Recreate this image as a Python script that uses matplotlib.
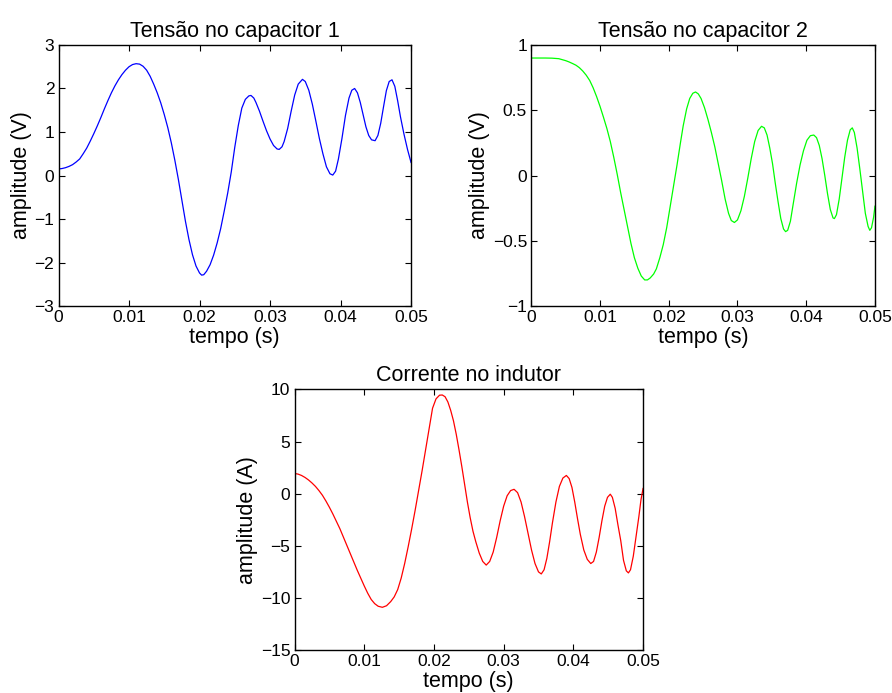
import matplotlib
matplotlib.use("Agg")
import matplotlib.pyplot as plt
import numpy as np

plt.rcParams['font.family'] = ['Liberation Sans', 'DejaVu Sans']

# ---- data (time in ms) ----
t1_ms = [0, 0.5, 1, 1.5, 2, 2.5, 3, 3.5, 4, 4.5, 5, 5.5, 6, 6.5, 7, 7.5, 8, 8.5, 9, 9.5, 10, 10.5,
         11, 11.5, 12, 12.5, 13, 13.5, 14, 14.5, 15, 15.5, 16, 16.5, 17, 17.5, 18, 18.5, 19, 19.5,
         20, 20.3, 20.6, 21, 21.5, 22, 22.5, 23, 23.5, 24, 24.5, 25, 25.5, 26, 26.5, 27, 27.3,
         27.7, 28, 28.5, 29, 29.5, 30, 30.5, 31, 31.3, 31.7, 32, 32.5, 33, 33.5, 34, 34.6, 35,
         35.5, 36, 36.5, 37, 37.5, 38, 38.5, 38.9, 39.3, 39.7, 40.2, 40.7, 41.2, 41.6, 42, 42.4,
         42.8, 43.2, 43.6, 44, 44.4, 44.9, 45.3, 45.7, 46.1, 46.5, 46.9, 47.3, 47.7, 48.1, 48.5,
         49, 49.5, 50]
v1 = [0.15, 0.16, 0.18, 0.21, 0.25, 0.31, 0.38, 0.50, 0.63, 0.79, 0.96, 1.14, 1.33, 1.53, 1.72,
      1.90, 2.06, 2.20, 2.32, 2.42, 2.50, 2.55, 2.57, 2.56, 2.51, 2.42, 2.28, 2.10, 1.90, 1.67,
      1.40, 1.10, 0.75, 0.35, -0.09, -0.57, -1.05, -1.47, -1.82, -2.08, -2.24, -2.29, -2.28,
      -2.20, -2.05, -1.83, -1.55, -1.22, -0.82, -0.40, 0.08, 0.65, 1.15, 1.55, 1.75, 1.83, 1.84,
      1.78, 1.68, 1.48, 1.25, 1.03, 0.84, 0.69, 0.61, 0.60, 0.66, 0.78, 1.08, 1.48, 1.85, 2.10,
      2.21, 2.16, 1.96, 1.64, 1.25, 0.85, 0.50, 0.20, 0.04, 0.01, 0.10, 0.38, 0.85, 1.38, 1.78,
      1.96, 2.00, 1.90, 1.68, 1.40, 1.12, 0.92, 0.82, 0.80, 0.92, 1.20, 1.58, 1.95, 2.16, 2.20,
      2.05, 1.72, 1.35, 0.95, 0.60, 0.30]

t2_ms = [0, 1, 2, 3, 4, 5, 5.5, 6, 6.5, 7, 7.5, 8, 8.5, 9, 9.5, 10, 10.5, 11, 11.5, 12, 12.5, 13,
         13.5, 14, 14.5, 15, 15.5, 16, 16.5, 16.9, 17.3, 17.8, 18.2, 18.7, 19.2, 19.7, 20.2, 20.7,
         21.2, 21.7, 22.1, 22.6, 23.05, 23.5, 23.9, 24.3, 24.7, 25.2, 25.7, 26.2, 26.7, 27.2,
         27.7, 28.2, 28.7, 29.1, 29.55, 30, 30.5, 31, 31.5, 32, 32.5, 33, 33.5, 33.9, 34.3, 34.7,
         35.1, 35.5, 35.9, 36.3, 36.7, 37.0, 37.3, 37.7, 38.1, 38.6, 39.1, 39.6, 40.1, 40.6,
         41.1, 41.5, 41.9, 42.3, 42.7, 43.1, 43.5, 43.9, 44.1, 44.4, 44.8, 45.2, 45.6, 46.0,
         46.4, 46.7, 47.0, 47.4, 47.8, 48.2, 48.6, 49.0, 49.25, 49.5, 49.8, 50.0]
v2 = [0.90, 0.90, 0.90, 0.899, 0.895, 0.88, 0.87, 0.858, 0.845, 0.826, 0.80, 0.768, 0.728, 0.672,
      0.605, 0.53, 0.447, 0.36, 0.26, 0.14, 0.01, -0.13, -0.26, -0.39, -0.52, -0.63, -0.71,
      -0.77, -0.80, -0.80, -0.785, -0.755, -0.715, -0.63, -0.53, -0.40, -0.24, -0.08, 0.08,
      0.25, 0.38, 0.51, 0.59, 0.63, 0.64, 0.625, 0.59, 0.52, 0.43, 0.33, 0.22, 0.09, -0.04,
      -0.18, -0.29, -0.345, -0.36, -0.34, -0.27, -0.16, -0.02, 0.13, 0.26, 0.345, 0.377, 0.365,
      0.31, 0.21, 0.09, -0.06, -0.20, -0.33, -0.41, -0.43, -0.42, -0.35, -0.22, -0.06, 0.08,
      0.19, 0.27, 0.305, 0.31, 0.29, 0.23, 0.13, 0.0, -0.14, -0.26, -0.325, -0.33, -0.30,
      -0.18, -0.02, 0.14, 0.27, 0.35, 0.365, 0.33, 0.21, 0.05, -0.12, -0.29, -0.39, -0.42,
      -0.40, -0.32, -0.235]

t3_ms = [0, 0.5, 1.0, 1.5, 2.0, 2.5, 3.0, 3.5, 4.0, 4.5, 5.0, 5.5, 6.0, 6.5, 7.0, 7.5, 8.0, 8.5,
         9.0, 9.5, 10.0, 10.5, 11.0, 11.5, 12.0, 12.6, 13.2, 13.8, 14.3, 14.8, 15.3, 15.8, 16.3,
         16.8, 17.3, 17.8, 18.3, 18.8, 19.3, 19.8, 20.3, 20.8, 21.2, 21.6, 22.0, 22.4, 22.8,
         23.2, 23.6, 24.0, 24.4, 24.8, 25.2, 25.6, 26.0, 26.5, 27.0, 27.5, 28.0, 28.5, 29.0,
         29.5, 30.0, 30.5, 31.0, 31.5, 32.0, 32.5, 33.0, 33.5, 34.0, 34.5, 35.0, 35.4, 35.8,
         36.2, 36.6, 37.0, 37.5, 38.0, 38.5, 39.0, 39.4, 39.8, 40.2, 40.6, 41.0, 41.5, 42.0,
         42.5, 42.9, 43.3, 43.7, 44.1, 44.5, 44.9, 45.3, 45.6, 46.0, 46.4, 46.8, 47.2, 47.6,
         47.9, 48.2, 48.6, 49.0, 49.4, 49.7, 50.0]
i3 = [1.94, 1.88, 1.75, 1.56, 1.32, 1.03, 0.70, 0.30, -0.15, -0.70, -1.30, -1.95, -2.65, -3.35,
      -4.15, -4.95, -5.75, -6.55, -7.35, -8.1, -8.85, -9.55, -10.15, -10.55, -10.8, -10.9,
      -10.75, -10.35, -9.9, -9.2, -8.1, -6.7, -5.1, -3.4, -1.6, 0.3, 2.2, 4.2, 6.2, 8.2, 9.1,
      9.45, 9.47, 9.3, 8.8, 8.0, 7.0, 5.7, 4.2, 2.6, 0.9, -0.8, -2.3, -3.6, -4.6, -5.7, -6.5,
      -6.85, -6.5, -5.6, -4.2, -2.6, -1.2, -0.2, 0.3, 0.42, 0.1, -0.8, -2.2, -3.8, -5.4, -6.7,
      -7.5, -7.7, -7.3, -6.2, -4.6, -2.8, -0.8, 0.7, 1.5, 1.75, 1.45, 0.6, -0.8, -2.4, -3.9,
      -5.4, -6.3, -6.7, -6.5, -5.6, -4.2, -2.6, -1.2, -0.35, -0.05, -0.35, -1.4, -3.0, -4.5,
      -6.4, -7.4, -7.6, -7.3, -6.0, -4.1, -2.2, -0.6, 0.5]

titles = ["Tensão no capacitor 1", "Tensão no capacitor 2", "Corrente no indutor"]
ylabels = ["amplitude (V)", "amplitude (V)", "amplitude (A)"]
xlabel = "tempo (s)"
xticks = [0, 0.01, 0.02, 0.03, 0.04, 0.05]
xticklabels = ["0", "0.01", "0.02", "0.03", "0.04", "0.05"]
yticks1 = [-3, -2, -1, 0, 1, 2, 3]
yticks2 = [-1, -0.5, 0, 0.5, 1]
yticklabels2 = ["\u22121", "\u22120.5", "0", "0.5", "1"]
yticks3 = [-15, -10, -5, 0, 5, 10]

fig = plt.figure(figsize=(8.92, 6.93), dpi=100)
ax1 = fig.add_axes([0.0656, 0.5584, 0.3952, 0.3767])
ax2 = fig.add_axes([0.5956, 0.5584, 0.3853, 0.3767])
ax3 = fig.add_axes([0.3302, 0.0620, 0.3907, 0.3760])

series = [
    (ax1, t1_ms, v1, (0, 0, 1), (-3, 3), yticks1, None),
    (ax2, t2_ms, v2, (0, 1, 0), (-1, 1), yticks2, yticklabels2),
    (ax3, t3_ms, i3, (1, 0, 0), (-15, 10), yticks3, None),
]

for k, (ax, tms, y, col, ylim, yt, ytl) in enumerate(series):
    t = np.array(tms) / 1000.0
    ax.plot(t, y, color=col, linewidth=0.9, solid_joinstyle='round')
    ax.set_xlim(0, 0.05)
    ax.set_ylim(*ylim)
    ax.set_xticks(xticks)
    ax.set_xticklabels(xticklabels)
    ax.set_yticks(yt)
    if ytl is not None:
        ax.set_yticklabels(ytl)
    ax.tick_params(direction='in', top=True, right=True, length=4, width=0.8,
                   labelsize=12.5, pad=3)
    for s in ax.spines.values():
        s.set_linewidth(1.0)
    ax.set_title(titles[k], fontsize=15.5, pad=6)
    ax.set_xlabel(xlabel, fontsize=15.5, labelpad=1.5)
    ax.set_ylabel(ylabels[k], fontsize=15.5, labelpad=2)

fig.savefig("out.png", dpi=100)
